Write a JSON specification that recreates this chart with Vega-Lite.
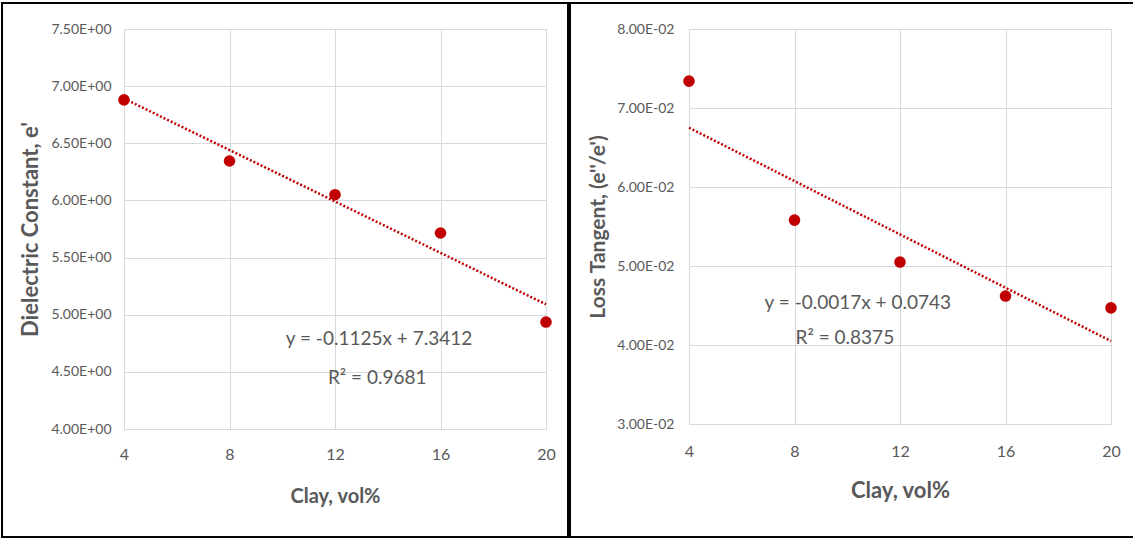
{
  "$schema": "https://vega.github.io/schema/vega-lite/v6.json",
  "padding": {"left": 1, "top": 2, "right": 1, "bottom": 2},
  "background": "white",
  "spacing": 0,
  "config": {
    "view": {"stroke": "black", "strokeWidth": 2},
    "axis": {
      "gridColor": "#d9d9d9",
      "gridWidth": 1,
      "domain": false,
      "ticks": false,
      "labelFlush": false,
      "labelColor": "#595959",
      "titleColor": "#595959",
      "labelFont": "Lato",
      "titleFont": "Lato",
      "titleFontWeight": "bold"
    }
  },
  "hconcat": [
    {
      "width": 566,
      "height": 534,
      "resolve": {"axis": {"x": "independent"}},
      "layer": [
        {
          "data": {"values": [{"clay": 4, "val": 6.891}, {"clay": 20, "val": 5.091}]},
          "mark": {"type": "line", "color": "#C00000", "strokeDash": [2, 2], "strokeWidth": 2.5},
          "encoding": {
            "x": {"field": "clay", "type": "quantitative", "scale": {"domain": [4, 20], "range": [122, 544], "nice": false, "zero": false},
              "axis": {"orient": "top", "values": [4, 8, 12, 16, 20], "grid": true, "labels": false, "title": null}},
            "y": {"field": "val", "type": "quantitative", "scale": {"domain": [4, 7.5], "range": [426, 26], "nice": false, "zero": false},
              "axis": {"grid": true, "values": [4, 4.5, 5, 5.5, 6, 6.5, 7, 7.5], "offset": -122, "labelExpr": "format(datum.value, '.2f') + 'E+00'", "labelFontSize": 14, "labelPadding": 13, "title": "Dielectric Constant, e'", "titleFontSize": 22, "titlePadding": 8}}
          }
        },
        {
          "data": {"values": [{"clay": 4, "val": 6.88}, {"clay": 8, "val": 6.345}, {"clay": 12, "val": 6.05}, {"clay": 16, "val": 5.715}, {"clay": 20, "val": 4.936}]},
          "mark": {"type": "circle", "size": 135, "color": "#C00000", "opacity": 1},
          "encoding": {
            "x": {"field": "clay", "type": "quantitative", "scale": {"domain": [4, 20], "range": [122, 544], "nice": false, "zero": false},
              "axis": {"orient": "bottom", "grid": false, "values": [4, 8, 12, 16, 20], "offset": -108, "labelFontSize": 16, "labelPadding": 17, "title": "Clay, vol%", "titleFontSize": 20, "titlePadding": 24}},
            "y": {"field": "val", "type": "quantitative"}
          }
        },
        {
          "data": {"values": [{"clay": 13.67, "val": 4.79, "label": "y = -0.1125x + 7.3412"}, {"clay": 13.6, "val": 4.446, "label": "R² = 0.9681"}]},
          "mark": {"type": "text", "font": "Lato", "fontSize": 19, "color": "#595959", "align": "center", "baseline": "middle"},
          "encoding": {
            "x": {"field": "clay", "type": "quantitative", "axis": null},
            "y": {"field": "val", "type": "quantitative"},
            "text": {"field": "label"}
          }
        }
      ]
    },
    {
      "width": 565,
      "height": 534,
      "resolve": {"axis": {"x": "independent"}},
      "layer": [
        {
          "data": {"values": [{"clay": 4, "val": 0.0675}, {"clay": 20, "val": 0.0405}]},
          "mark": {"type": "line", "color": "#C00000", "strokeDash": [2, 2], "strokeWidth": 2.5},
          "encoding": {
            "x": {"field": "clay", "type": "quantitative", "scale": {"domain": [4, 20], "range": [119, 541], "nice": false, "zero": false},
              "axis": {"orient": "top", "values": [4, 8, 12, 16, 20], "grid": true, "labels": false, "title": null}},
            "y": {"field": "val", "type": "quantitative", "scale": {"domain": [0.03, 0.08], "range": [421, 26], "nice": false, "zero": false},
              "axis": {"grid": true, "values": [0.03, 0.04, 0.05, 0.06, 0.07, 0.08], "offset": -119, "labelExpr": "format(datum.value * 100, '.2f') + 'E-02'", "labelFontSize": 14, "labelPadding": 15, "title": "Loss Tangent, (e''/e')", "titleFontSize": 21, "titlePadding": 8}}
          }
        },
        {
          "data": {"values": [{"clay": 4, "val": 0.0734}, {"clay": 8, "val": 0.0558}, {"clay": 12, "val": 0.0505}, {"clay": 16, "val": 0.0462}, {"clay": 20, "val": 0.0447}]},
          "mark": {"type": "circle", "size": 135, "color": "#C00000", "opacity": 1},
          "encoding": {
            "x": {"field": "clay", "type": "quantitative", "scale": {"domain": [4, 20], "range": [119, 541], "nice": false, "zero": false},
              "axis": {"orient": "bottom", "grid": false, "values": [4, 8, 12, 16, 20], "offset": -113, "labelFontSize": 16, "labelPadding": 19, "title": "Clay, vol%", "titleFontSize": 22, "titlePadding": 21}},
            "y": {"field": "val", "type": "quantitative"}
          }
        },
        {
          "data": {"values": [{"clay": 10.4, "val": 0.0453, "label": "y = -0.0017x + 0.0743"}, {"clay": 9.91, "val": 0.0409, "label": "R² = 0.8375"}]},
          "mark": {"type": "text", "font": "Lato", "fontSize": 19, "color": "#595959", "align": "center", "baseline": "middle"},
          "encoding": {
            "x": {"field": "clay", "type": "quantitative", "axis": null},
            "y": {"field": "val", "type": "quantitative"},
            "text": {"field": "label"}
          }
        }
      ]
    }
  ]
}
